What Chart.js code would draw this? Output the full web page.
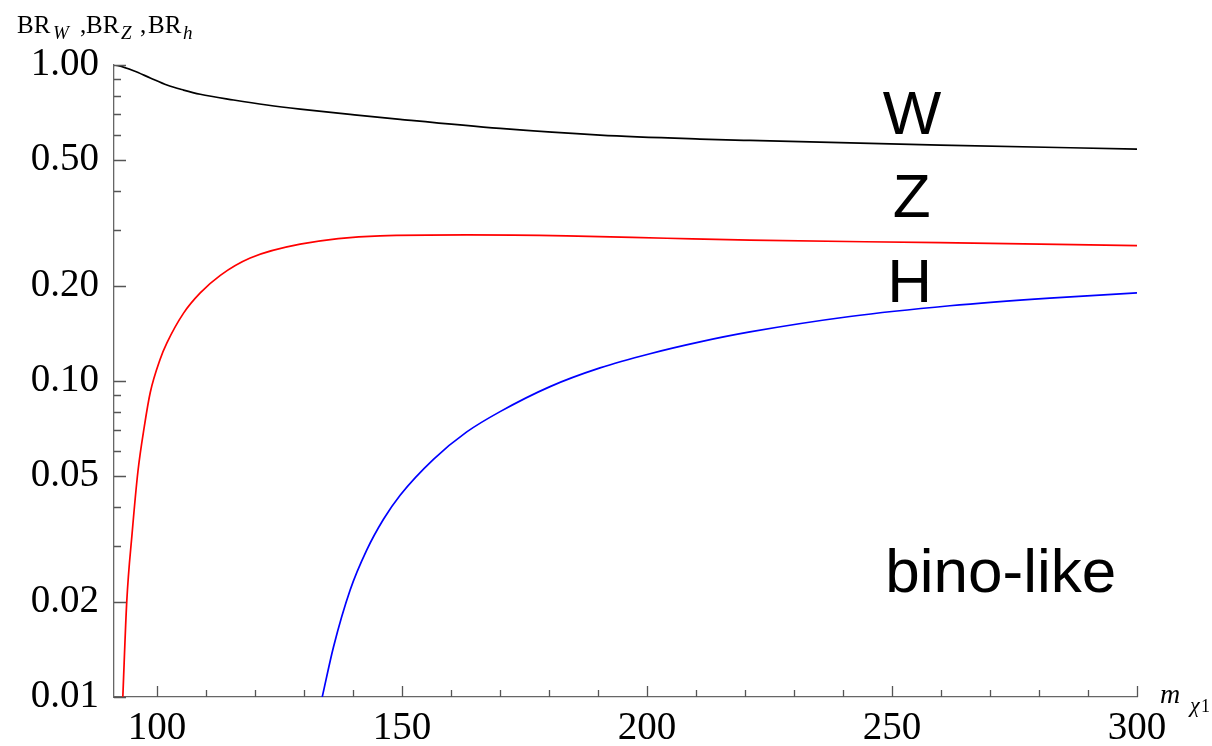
<!DOCTYPE html>
<html>
<head>
<meta charset="utf-8">
<script src="https://cdn.jsdelivr.net/npm/chart.js@4/dist/chart.umd.min.js"></script>
<style>
html, body { margin: 0; padding: 0; background: #fff; }
#wrap { width: 1212px; height: 746px; }
</style>
</head>
<body>
<div id="wrap"><canvas id="chart" width="1212" height="746"></canvas></div>
<script>
/* branching ratios vs neutralino mass (bino-like) */
var massW = [91.2, 92.1, 95.2, 98.6, 102.0, 105.4, 108.8, 115.6, 122.4, 129.2, 139.4, 149.6, 170.0, 190.4, 210.8, 221.0, 259.8, 300.0];
var brW = [1.00, 0.995, 0.959, 0.910, 0.864, 0.833, 0.808, 0.775, 0.747, 0.725, 0.698, 0.673, 0.630, 0.600, 0.583, 0.577, 0.558, 0.542];

var massZ = [93.0, 93.8, 94.9, 96.1, 97.4, 98.6, 100.6, 102.0, 105.4, 108.8, 112.9, 119.0, 129.2, 145.5, 163.2, 183.6, 204.0, 221.0, 259.8, 300.0];
var brZ = [0.0100, 0.0200, 0.0330, 0.0520, 0.0720, 0.092, 0.117, 0.132, 0.164, 0.190, 0.216, 0.245, 0.271, 0.288, 0.290, 0.288, 0.283, 0.279, 0.274, 0.268];

var massH = [133.7, 136.0, 139.4, 142.8, 146.2, 149.6, 156.4, 163.2, 170.0, 180.2, 190.4, 200.6, 210.8, 221.0, 241.4, 261.8, 282.2, 300.0];
var brH = [0.0100, 0.0144, 0.0218, 0.0292, 0.0365, 0.0435, 0.0565, 0.069, 0.080, 0.096, 0.110, 0.122, 0.133, 0.143, 0.160, 0.173, 0.183, 0.190];

var xTicks = [100, 150, 200, 250, 300];
var yTicks = [0.01, 0.02, 0.05, 0.1, 0.2, 0.5, 1.0];
var yMinorTicks = [0.03, 0.04, 0.06, 0.07, 0.08, 0.09, 0.3, 0.4, 0.6, 0.7, 0.8, 0.9];

var pts = function (xs, ys) {
    return xs.map(function (x, i) { return {x: x, y: ys[i]}; });
};

var line = function (label, xs, ys, color) {
    return {
        label: label,
        data: pts(xs, ys),
        borderColor: color,
        borderWidth: 1.7,
        pointRadius: 0,
        fill: false,
        cubicInterpolationMode: 'monotone'
    };
};

// inward ticks, curve labels and axis titles
var extras = {
    id: 'extras',
    afterDraw: function (chart) {
        var ctx = chart.ctx;
        var xs = chart.scales.x, ys = chart.scales.y, area = chart.chartArea;
        ctx.save();
        ctx.strokeStyle = '#555';
        ctx.lineWidth = 1.3;
        ctx.beginPath();
        xTicks.forEach(function (v) {
            var px = Math.round(xs.getPixelForValue(v)) + 0.5;
            ctx.moveTo(px, area.bottom); ctx.lineTo(px, area.bottom - 11);
        });
        for (var m = 100; m < 300; m += 10) {
            if (m % 50 === 0) continue;
            var px = Math.round(xs.getPixelForValue(m)) + 0.5;
            ctx.moveTo(px, area.bottom); ctx.lineTo(px, area.bottom - 7);
        }
        yTicks.forEach(function (v) {
            var py = Math.round(ys.getPixelForValue(v)) + 0.5;
            ctx.moveTo(area.left, py); ctx.lineTo(area.left + 12, py);
        });
        yMinorTicks.forEach(function (v) {
            var py = Math.round(ys.getPixelForValue(v)) + 0.5;
            ctx.moveTo(area.left, py); ctx.lineTo(area.left + 7, py);
        });
        ctx.stroke();

        ctx.fillStyle = '#000';
        ctx.textAlign = 'center';
        ctx.textBaseline = 'alphabetic';
        ctx.font = '62px "Liberation Sans"';
        ctx.fillText('W', xs.getPixelForValue(254.1), ys.getPixelForValue(0.605));
        ctx.fillText('Z', xs.getPixelForValue(254.0), ys.getPixelForValue(0.330));
        ctx.fillText('H', xs.getPixelForValue(253.6), ys.getPixelForValue(0.178));
        ctx.fillText('bino-like', xs.getPixelForValue(272.2), ys.getPixelForValue(0.0215));

        // y title: BR_W ,BR_Z ,BR_h
        ctx.textAlign = 'left';
        var big = '25px "Liberation Serif"', small = 'italic 19px "Liberation Serif"';
        var parts = [['BR', big, 17, 0], ['W', small, 53, 6], [',', big, 80, 0], ['BR', big, 86, 0], ['Z', small, 121, 6],
                     [',', big, 140, 0], ['BR', big, 148, 0], ['h', small, 183, 6]];
        parts.forEach(function (p) {
            ctx.font = p[1];
            ctx.fillText(p[0], p[2], 33 + p[3]);
        });

        // x title: m chi_1
        ctx.font = 'italic 28px "Liberation Serif"';
        ctx.fillText('m', 1160, 703);
        ctx.font = 'italic 22px "Liberation Serif"';
        ctx.fillText('\u03c7', 1190, 712);
        ctx.font = '18px "Liberation Serif"';
        ctx.fillText('1', 1201, 712);
        ctx.restore();
    }
};

var config = {
    type: 'line',
    data: {
        datasets: [
            line('W', massW, brW, '#000000'),
            line('Z', massZ, brZ, '#ff0000'),
            line('H', massH, brH, '#0000ff')
        ]
    },
    options: {
        responsive: false,
        animation: false,
        events: [],
        layout: {padding: {top: 65, right: 75, left: 0, bottom: 0}},
        plugins: {
            legend: {display: false},
            tooltip: {enabled: false}
        },
        scales: {
            x: {
                type: 'linear',
                min: 91.2,
                max: 300,
                afterBuildTicks: function (scale) {
                    scale.ticks = xTicks.map(function (v) { return {value: v}; });
                },
                afterFit: function (scale) { scale.height = 49; },
                grid: {display: false, drawTicks: false},
                border: {display: true, color: '#666', width: 1.3},
                ticks: {
                    padding: 8,
                    maxRotation: 0,
                    color: '#000',
                    font: {family: 'Liberation Serif', size: 39},
                    callback: function (v) { return String(v); }
                }
            },
            y: {
                type: 'logarithmic',
                min: 0.01,
                max: 1,
                afterBuildTicks: function (scale) {
                    scale.ticks = yTicks.map(function (v) { return {value: v}; });
                },
                afterFit: function (scale) { scale.width = 114; },
                grid: {display: false, drawTicks: false},
                border: {display: true, color: '#666', width: 1.3},
                ticks: {
                    padding: 15,
                    color: '#000',
                    font: {family: 'Liberation Serif', size: 39},
                    callback: function (v) { return Number(v).toFixed(2); }
                }
            }
        }
    },
    plugins: [extras]
};

var ctx = document.getElementById('chart').getContext('2d');
var myChart = new Chart(ctx, config);
</script>
</body>
</html>
